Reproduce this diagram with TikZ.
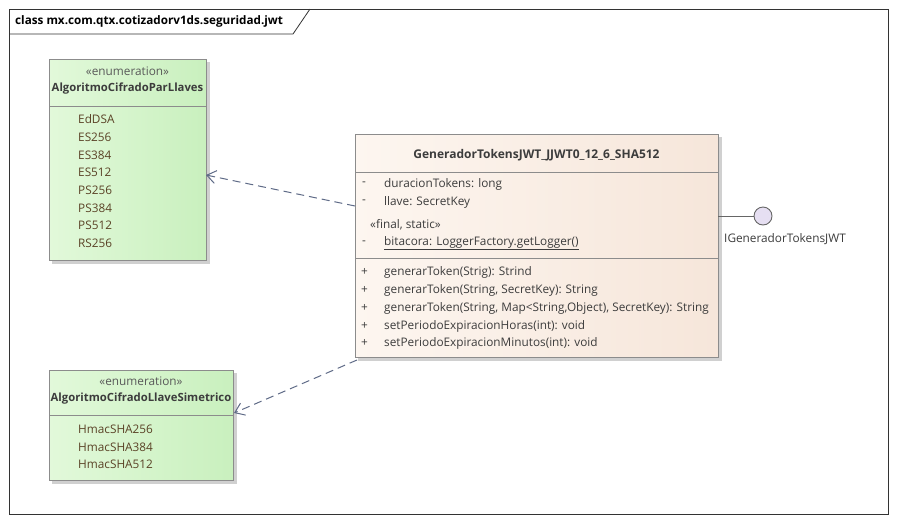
\documentclass[tikz,border=0pt]{standalone}
\usepackage{fontspec}
\setmainfont{Open Sans}
\usetikzlibrary{arrows.meta}
\definecolor{boxline}{HTML}{8C8C8C}
\definecolor{shadowc}{HTML}{D0D0D0}
\definecolor{greenL}{HTML}{E2F9DA}
\definecolor{greenR}{HTML}{C9F0BE}
\definecolor{peachL}{HTML}{FDF6F0}
\definecolor{peachR}{HTML}{F6E6DA}
\definecolor{txt}{HTML}{3C3C3C}
\definecolor{itemtxt}{HTML}{5A4226}
\definecolor{arrowc}{HTML}{5F6B87}
\definecolor{lolli}{HTML}{E6DFF2}
\tikzset{
  txtstyle/.style={inner sep=0pt, text=txt, font=\fontsize{11.8}{13}\selectfont},
  lbl/.style={txtstyle, anchor=west},
  item/.style={lbl, text=itemtxt},
  ctr/.style={txtstyle, anchor=center},
  ster/.style={ctr, text=black!65},
  bname/.style={ctr, font=\fontsize{12}{13}\selectfont\bfseries},
  ename/.style={ctr, font=\fontsize{11.3}{13}\selectfont\bfseries},
  enumbox/.style={draw=boxline, left color=greenL, right color=greenR},
  classbox/.style={draw=boxline, left color=peachL, right color=peachR},
  shadowbox/.style={fill=shadowc, draw=none},
  sepline/.style={draw=boxline},
  dep/.style={draw=arrowc, dash pattern=on 8pt off 5pt, line width=1pt, -{Straight Barb[length=9pt,width=13pt,line width=1pt]}},
}
\begin{document}
\begin{tikzpicture}[x=1pt,y=-1pt]
\useasboundingbox (0,0) rectangle (897,523);
\fill[white] (0,0) rectangle (897,523);
% frame
\draw[black!80, line width=0.8pt] (9,9) rectangle (888,514);
\draw[black!80, line width=0.8pt] (9,34) -- (293,34) -- (310,9);
\node[anchor=west, inner sep=0pt, font=\fontsize{11.7}{13}\selectfont\bfseries, text=black] (title) at (15,21) {class mx.com.qtx.cotizadorv1ds.seguridad.jwt};

% enumeration 1
\fill[shadowbox] (52,62) rectangle (210,264);
\path[enumbox] (49,59) rectangle (206,260);
\coordinate (enumA) at (206,175);
\draw[sepline] (49,106) -- (206,106);
\node[ster] (ea1) at (127.5,71) {«enumeration»};
\node[ename] (ea2) at (127.5,89) {AlgoritmoCifradoParLlaves};
\node[item] (a1) at (78,119) {EdDSA};
\node[item] (a2) at (78,137) {ES256};
\node[item] (a3) at (78,155) {ES384};
\node[item] (a4) at (78,172) {ES512};
\node[item] (a5) at (78,190) {PS256};
\node[item] (a6) at (78,208) {PS384};
\node[item] (a7) at (78,225) {PS512};
\node[item] (a8) at (78,243) {RS256};

% enumeration 2
\fill[shadowbox] (52,373) rectangle (237,484);
\path[enumbox] (49,370) rectangle (233,480);
\coordinate (enumB) at (234,413);
\draw[sepline] (49,415) -- (233,415);
\node[ster] (eb1) at (141,381) {«enumeration»};
\node[ename] (eb2) at (141,399) {AlgoritmoCifradoLlaveSimetrico};
\node[item] (b1) at (78,429) {HmacSHA256};
\node[item] (b2) at (78,447) {HmacSHA384};
\node[item] (b3) at (78,464) {HmacSHA512};

% class
\fill[shadowbox] (358,137) rectangle (722,361);
\path[classbox] (355,134) rectangle (718,357);
\draw[sepline] (355,172) -- (718,172);
\draw[sepline] (355,258) -- (718,258);
\node[bname] (cname) at (536.5,155) {GeneradorTokensJWT\_JJWT0\_12\_6\_SHA512};
\node[lbl] (m1) at (362,184) {-};
\node[lbl] (f1) at (384,184) {duracionTokens: long};
\node[lbl] (m2) at (362,202) {-};
\node[lbl] (f2) at (384,202) {llave: SecretKey};
\node[lbl] (st) at (370,225) {«final, static»};
\node[lbl] (m3) at (362,243) {-};
\node[lbl] (f3) at (384,243) {\underline{bitacora: LoggerFactory.getLogger()}};
\node[lbl] (p1) at (361,272) {+};
\node[lbl] (o1) at (384,272) {generarToken(Strig): Strind};
\node[lbl] (p2) at (361,290) {+};
\node[lbl] (o2) at (384,290) {generarToken(String, SecretKey): String};
\node[lbl] (p3) at (361,308) {+};
\node[lbl] (o3) at (384,308) {generarToken(String, Map<String,Object), SecretKey): String};
\node[lbl] (p4) at (361,326) {+};
\node[lbl] (o4) at (384,326) {setPeriodoExpiracionHoras(int): void};
\node[lbl] (p5) at (361,343) {+};
\node[lbl] (o5) at (384,343) {setPeriodoExpiracionMinutos(int): void};
\coordinate (clsA) at (355,206);
\coordinate (clsB) at (357,360);
\coordinate (clsR) at (718,216);

% interface lollipop
\node[circle, draw=black!60, fill=lolli, line width=0.9pt, minimum size=18pt, inner sep=0pt] (iface) at (763,216) {};
\draw[black!60, line width=0.9pt] (clsR) -- (iface.west);
\node[lbl] (ilbl) at (724,239) {IGeneradorTokensJWT};

% dependencies
\draw[dep] (clsA) -- (enumA);
\draw[dep] (clsB) -- (enumB);
\end{tikzpicture}
\end{document}
